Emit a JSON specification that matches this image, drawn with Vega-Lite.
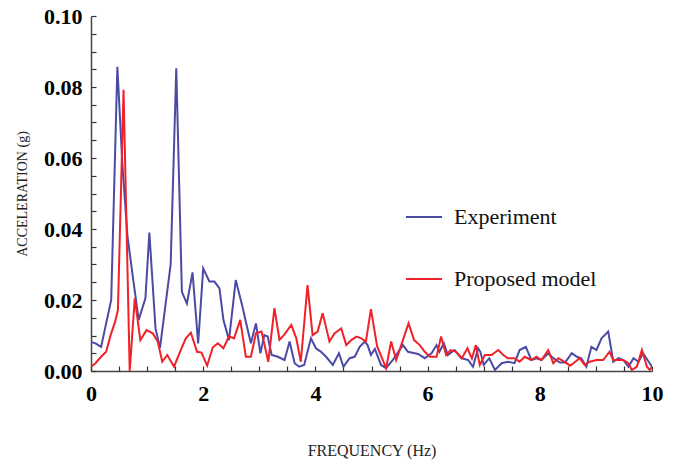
{
  "$schema": "https://vega.github.io/schema/vega-lite/v6.json",
  "width": 561,
  "height": 355,
  "autosize": "none",
  "padding": {"left": 91, "top": 16, "right": 26, "bottom": 90},
  "background": "white",
  "config": {
    "view": {"stroke": null},
    "font": "Liberation Serif"
  },
  "data": {
    "values": [
      {"f": 0.00, "a": 0.0082, "s": "Experiment"},
      {"f": 0.08, "a": 0.0078, "s": "Experiment"},
      {"f": 0.18, "a": 0.0068, "s": "Experiment"},
      {"f": 0.36, "a": 0.0200, "s": "Experiment"},
      {"f": 0.47, "a": 0.0857, "s": "Experiment"},
      {"f": 0.56, "a": 0.0580, "s": "Experiment"},
      {"f": 0.65, "a": 0.0380, "s": "Experiment"},
      {"f": 0.75, "a": 0.0260, "s": "Experiment"},
      {"f": 0.85, "a": 0.0144, "s": "Experiment"},
      {"f": 0.97, "a": 0.0205, "s": "Experiment"},
      {"f": 1.04, "a": 0.0390, "s": "Experiment"},
      {"f": 1.15, "a": 0.0120, "s": "Experiment"},
      {"f": 1.23, "a": 0.0065, "s": "Experiment"},
      {"f": 1.42, "a": 0.0300, "s": "Experiment"},
      {"f": 1.52, "a": 0.0853, "s": "Experiment"},
      {"f": 1.62, "a": 0.0223, "s": "Experiment"},
      {"f": 1.71, "a": 0.0190, "s": "Experiment"},
      {"f": 1.81, "a": 0.0278, "s": "Experiment"},
      {"f": 1.91, "a": 0.0078, "s": "Experiment"},
      {"f": 2.00, "a": 0.0289, "s": "Experiment"},
      {"f": 2.11, "a": 0.0252, "s": "Experiment"},
      {"f": 2.20, "a": 0.0252, "s": "Experiment"},
      {"f": 2.29, "a": 0.0233, "s": "Experiment"},
      {"f": 2.36, "a": 0.0144, "s": "Experiment"},
      {"f": 2.46, "a": 0.0087, "s": "Experiment"},
      {"f": 2.58, "a": 0.0256, "s": "Experiment"},
      {"f": 2.70, "a": 0.0181, "s": "Experiment"},
      {"f": 2.76, "a": 0.0139, "s": "Experiment"},
      {"f": 2.85, "a": 0.0078, "s": "Experiment"},
      {"f": 2.94, "a": 0.0134, "s": "Experiment"},
      {"f": 3.02, "a": 0.0050, "s": "Experiment"},
      {"f": 3.09, "a": 0.0101, "s": "Experiment"},
      {"f": 3.15, "a": 0.0097, "s": "Experiment"},
      {"f": 3.22, "a": 0.0045, "s": "Experiment"},
      {"f": 3.33, "a": 0.0040, "s": "Experiment"},
      {"f": 3.45, "a": 0.0031, "s": "Experiment"},
      {"f": 3.54, "a": 0.0083, "s": "Experiment"},
      {"f": 3.63, "a": 0.0022, "s": "Experiment"},
      {"f": 3.71, "a": 0.0012, "s": "Experiment"},
      {"f": 3.80, "a": 0.0017, "s": "Experiment"},
      {"f": 3.92, "a": 0.0092, "s": "Experiment"},
      {"f": 4.01, "a": 0.0064, "s": "Experiment"},
      {"f": 4.10, "a": 0.0054, "s": "Experiment"},
      {"f": 4.19, "a": 0.0040, "s": "Experiment"},
      {"f": 4.31, "a": 0.0017, "s": "Experiment"},
      {"f": 4.42, "a": 0.0050, "s": "Experiment"},
      {"f": 4.50, "a": 0.0012, "s": "Experiment"},
      {"f": 4.61, "a": 0.0036, "s": "Experiment"},
      {"f": 4.70, "a": 0.0040, "s": "Experiment"},
      {"f": 4.79, "a": 0.0068, "s": "Experiment"},
      {"f": 4.88, "a": 0.0083, "s": "Experiment"},
      {"f": 4.93, "a": 0.0073, "s": "Experiment"},
      {"f": 4.99, "a": 0.0045, "s": "Experiment"},
      {"f": 5.06, "a": 0.0062, "s": "Experiment"},
      {"f": 5.17, "a": 0.0017, "s": "Experiment"},
      {"f": 5.26, "a": 0.0008, "s": "Experiment"},
      {"f": 5.38, "a": 0.0031, "s": "Experiment"},
      {"f": 5.56, "a": 0.0073, "s": "Experiment"},
      {"f": 5.65, "a": 0.0054, "s": "Experiment"},
      {"f": 5.83, "a": 0.0048, "s": "Experiment"},
      {"f": 5.95, "a": 0.0036, "s": "Experiment"},
      {"f": 6.07, "a": 0.0050, "s": "Experiment"},
      {"f": 6.16, "a": 0.0073, "s": "Experiment"},
      {"f": 6.21, "a": 0.0054, "s": "Experiment"},
      {"f": 6.29, "a": 0.0078, "s": "Experiment"},
      {"f": 6.36, "a": 0.0045, "s": "Experiment"},
      {"f": 6.48, "a": 0.0059, "s": "Experiment"},
      {"f": 6.60, "a": 0.0036, "s": "Experiment"},
      {"f": 6.72, "a": 0.0031, "s": "Experiment"},
      {"f": 6.81, "a": 0.0012, "s": "Experiment"},
      {"f": 6.90, "a": 0.0064, "s": "Experiment"},
      {"f": 6.94, "a": 0.0054, "s": "Experiment"},
      {"f": 7.00, "a": 0.0017, "s": "Experiment"},
      {"f": 7.10, "a": 0.0036, "s": "Experiment"},
      {"f": 7.20, "a": 0.0003, "s": "Experiment"},
      {"f": 7.32, "a": 0.0022, "s": "Experiment"},
      {"f": 7.43, "a": 0.0026, "s": "Experiment"},
      {"f": 7.55, "a": 0.0022, "s": "Experiment"},
      {"f": 7.64, "a": 0.0059, "s": "Experiment"},
      {"f": 7.75, "a": 0.0068, "s": "Experiment"},
      {"f": 7.85, "a": 0.0031, "s": "Experiment"},
      {"f": 7.94, "a": 0.0036, "s": "Experiment"},
      {"f": 8.03, "a": 0.0031, "s": "Experiment"},
      {"f": 8.15, "a": 0.0050, "s": "Experiment"},
      {"f": 8.24, "a": 0.0036, "s": "Experiment"},
      {"f": 8.36, "a": 0.0024, "s": "Experiment"},
      {"f": 8.45, "a": 0.0024, "s": "Experiment"},
      {"f": 8.57, "a": 0.0050, "s": "Experiment"},
      {"f": 8.66, "a": 0.0040, "s": "Experiment"},
      {"f": 8.74, "a": 0.0036, "s": "Experiment"},
      {"f": 8.83, "a": 0.0012, "s": "Experiment"},
      {"f": 8.92, "a": 0.0068, "s": "Experiment"},
      {"f": 9.01, "a": 0.0059, "s": "Experiment"},
      {"f": 9.10, "a": 0.0092, "s": "Experiment"},
      {"f": 9.22, "a": 0.0111, "s": "Experiment"},
      {"f": 9.31, "a": 0.0026, "s": "Experiment"},
      {"f": 9.40, "a": 0.0036, "s": "Experiment"},
      {"f": 9.49, "a": 0.0031, "s": "Experiment"},
      {"f": 9.58, "a": 0.0012, "s": "Experiment"},
      {"f": 9.67, "a": 0.0036, "s": "Experiment"},
      {"f": 9.76, "a": 0.0026, "s": "Experiment"},
      {"f": 9.84, "a": 0.0050, "s": "Experiment"},
      {"f": 9.92, "a": 0.0031, "s": "Experiment"},
      {"f": 10.0, "a": 0.0012, "s": "Experiment"},

      {"f": 0.00, "a": 0.0012, "s": "Proposed model"},
      {"f": 0.08, "a": 0.0022, "s": "Proposed model"},
      {"f": 0.18, "a": 0.0040, "s": "Proposed model"},
      {"f": 0.27, "a": 0.0054, "s": "Proposed model"},
      {"f": 0.35, "a": 0.0101, "s": "Proposed model"},
      {"f": 0.43, "a": 0.0139, "s": "Proposed model"},
      {"f": 0.48, "a": 0.0172, "s": "Proposed model"},
      {"f": 0.58, "a": 0.0792, "s": "Proposed model"},
      {"f": 0.69, "a": 0.0000, "s": "Proposed model"},
      {"f": 0.78, "a": 0.0205, "s": "Proposed model"},
      {"f": 0.88, "a": 0.0087, "s": "Proposed model"},
      {"f": 0.99, "a": 0.0115, "s": "Proposed model"},
      {"f": 1.10, "a": 0.0106, "s": "Proposed model"},
      {"f": 1.19, "a": 0.0083, "s": "Proposed model"},
      {"f": 1.27, "a": 0.0026, "s": "Proposed model"},
      {"f": 1.36, "a": 0.0045, "s": "Proposed model"},
      {"f": 1.48, "a": 0.0012, "s": "Proposed model"},
      {"f": 1.60, "a": 0.0059, "s": "Proposed model"},
      {"f": 1.69, "a": 0.0092, "s": "Proposed model"},
      {"f": 1.78, "a": 0.0108, "s": "Proposed model"},
      {"f": 1.89, "a": 0.0054, "s": "Proposed model"},
      {"f": 1.97, "a": 0.0052, "s": "Proposed model"},
      {"f": 2.07, "a": 0.0015, "s": "Proposed model"},
      {"f": 2.17, "a": 0.0066, "s": "Proposed model"},
      {"f": 2.26, "a": 0.0078, "s": "Proposed model"},
      {"f": 2.36, "a": 0.0064, "s": "Proposed model"},
      {"f": 2.46, "a": 0.0098, "s": "Proposed model"},
      {"f": 2.55, "a": 0.0092, "s": "Proposed model"},
      {"f": 2.66, "a": 0.0144, "s": "Proposed model"},
      {"f": 2.76, "a": 0.0040, "s": "Proposed model"},
      {"f": 2.85, "a": 0.0040, "s": "Proposed model"},
      {"f": 2.94, "a": 0.0106, "s": "Proposed model"},
      {"f": 3.04, "a": 0.0111, "s": "Proposed model"},
      {"f": 3.16, "a": 0.0026, "s": "Proposed model"},
      {"f": 3.27, "a": 0.0177, "s": "Proposed model"},
      {"f": 3.36, "a": 0.0088, "s": "Proposed model"},
      {"f": 3.45, "a": 0.0103, "s": "Proposed model"},
      {"f": 3.57, "a": 0.0130, "s": "Proposed model"},
      {"f": 3.66, "a": 0.0092, "s": "Proposed model"},
      {"f": 3.74, "a": 0.0026, "s": "Proposed model"},
      {"f": 3.86, "a": 0.0242, "s": "Proposed model"},
      {"f": 3.95, "a": 0.0101, "s": "Proposed model"},
      {"f": 4.04, "a": 0.0111, "s": "Proposed model"},
      {"f": 4.13, "a": 0.0163, "s": "Proposed model"},
      {"f": 4.25, "a": 0.0083, "s": "Proposed model"},
      {"f": 4.34, "a": 0.0106, "s": "Proposed model"},
      {"f": 4.46, "a": 0.0120, "s": "Proposed model"},
      {"f": 4.55, "a": 0.0073, "s": "Proposed model"},
      {"f": 4.64, "a": 0.0087, "s": "Proposed model"},
      {"f": 4.73, "a": 0.0097, "s": "Proposed model"},
      {"f": 4.82, "a": 0.0092, "s": "Proposed model"},
      {"f": 4.90, "a": 0.0083, "s": "Proposed model"},
      {"f": 4.99, "a": 0.0174, "s": "Proposed model"},
      {"f": 5.10, "a": 0.0070, "s": "Proposed model"},
      {"f": 5.26, "a": 0.0008, "s": "Proposed model"},
      {"f": 5.35, "a": 0.0083, "s": "Proposed model"},
      {"f": 5.44, "a": 0.0031, "s": "Proposed model"},
      {"f": 5.54, "a": 0.0078, "s": "Proposed model"},
      {"f": 5.66, "a": 0.0134, "s": "Proposed model"},
      {"f": 5.76, "a": 0.0087, "s": "Proposed model"},
      {"f": 5.86, "a": 0.0073, "s": "Proposed model"},
      {"f": 5.95, "a": 0.0054, "s": "Proposed model"},
      {"f": 6.04, "a": 0.0040, "s": "Proposed model"},
      {"f": 6.16, "a": 0.0040, "s": "Proposed model"},
      {"f": 6.24, "a": 0.0097, "s": "Proposed model"},
      {"f": 6.33, "a": 0.0045, "s": "Proposed model"},
      {"f": 6.41, "a": 0.0059, "s": "Proposed model"},
      {"f": 6.51, "a": 0.0054, "s": "Proposed model"},
      {"f": 6.61, "a": 0.0036, "s": "Proposed model"},
      {"f": 6.71, "a": 0.0064, "s": "Proposed model"},
      {"f": 6.79, "a": 0.0035, "s": "Proposed model"},
      {"f": 6.86, "a": 0.0073, "s": "Proposed model"},
      {"f": 6.93, "a": 0.0017, "s": "Proposed model"},
      {"f": 7.02, "a": 0.0045, "s": "Proposed model"},
      {"f": 7.14, "a": 0.0045, "s": "Proposed model"},
      {"f": 7.26, "a": 0.0059, "s": "Proposed model"},
      {"f": 7.35, "a": 0.0045, "s": "Proposed model"},
      {"f": 7.43, "a": 0.0036, "s": "Proposed model"},
      {"f": 7.55, "a": 0.0036, "s": "Proposed model"},
      {"f": 7.64, "a": 0.0026, "s": "Proposed model"},
      {"f": 7.73, "a": 0.0040, "s": "Proposed model"},
      {"f": 7.85, "a": 0.0031, "s": "Proposed model"},
      {"f": 7.94, "a": 0.0040, "s": "Proposed model"},
      {"f": 8.03, "a": 0.0031, "s": "Proposed model"},
      {"f": 8.15, "a": 0.0059, "s": "Proposed model"},
      {"f": 8.24, "a": 0.0022, "s": "Proposed model"},
      {"f": 8.33, "a": 0.0036, "s": "Proposed model"},
      {"f": 8.45, "a": 0.0025, "s": "Proposed model"},
      {"f": 8.54, "a": 0.0015, "s": "Proposed model"},
      {"f": 8.60, "a": 0.0022, "s": "Proposed model"},
      {"f": 8.71, "a": 0.0036, "s": "Proposed model"},
      {"f": 8.80, "a": 0.0017, "s": "Proposed model"},
      {"f": 8.89, "a": 0.0026, "s": "Proposed model"},
      {"f": 9.01, "a": 0.0031, "s": "Proposed model"},
      {"f": 9.13, "a": 0.0031, "s": "Proposed model"},
      {"f": 9.24, "a": 0.0054, "s": "Proposed model"},
      {"f": 9.31, "a": 0.0031, "s": "Proposed model"},
      {"f": 9.40, "a": 0.0031, "s": "Proposed model"},
      {"f": 9.49, "a": 0.0031, "s": "Proposed model"},
      {"f": 9.58, "a": 0.0022, "s": "Proposed model"},
      {"f": 9.64, "a": 0.0003, "s": "Proposed model"},
      {"f": 9.73, "a": 0.0012, "s": "Proposed model"},
      {"f": 9.82, "a": 0.0059, "s": "Proposed model"},
      {"f": 9.91, "a": 0.0012, "s": "Proposed model"},
      {"f": 9.96, "a": 0.0003, "s": "Proposed model"},
      {"f": 10.0, "a": 0.0012, "s": "Proposed model"}
    ]
  },
  "mark": {"type": "line", "strokeWidth": 2, "clip": true},
  "encoding": {
    "x": {
      "field": "f",
      "type": "quantitative",
      "scale": {"domain": [0, 10], "nice": false, "zero": false},
      "axis": {
        "title": "FREQUENCY (Hz)",
        "titleFont": "Liberation Serif",
        "titleFontWeight": "normal",
        "titleFontSize": 16,
        "titleColor": "#222",
        "titlePadding": 38,
        "values": [0,0.5,1,1.5,2,2.5,3,3.5,4,4.5,5,5.5,6,6.5,7,7.5,8,8.5,9,9.5,10],
        "labelExpr": "datum.value % 2 === 0 ? datum.value : ''",
        "labelFont": "Liberation Serif",
        "labelFontWeight": "bold",
        "labelFontSize": 22,
        "labelColor": "#000",
        "labelPadding": 17,
        "labelFlush": false,
        "labelOverlap": false,
        "grid": false,
        "tickSize": -5,
        "tickColor": "#333",
        "tickWidth": 1.2,
        "domainColor": "#444",
        "domainWidth": 1.5
      }
    },
    "y": {
      "field": "a",
      "type": "quantitative",
      "scale": {"domain": [0, 0.1], "nice": false},
      "axis": {
        "title": "ACCELERATION (g)",
        "titleFont": "Liberation Serif",
        "titleFontWeight": "normal",
        "titleFontSize": 14,
        "titleColor": "#222",
        "titlePadding": 14,
        "values": [0,0.005,0.01,0.015,0.02,0.025,0.03,0.035,0.04,0.045,0.05,0.055,0.06,0.065,0.07,0.075,0.08,0.085,0.09,0.095,0.1],
        "labelExpr": "abs(datum.value*50 - round(datum.value*50)) < 1e-6 ? format(datum.value, '.2f') : ''",
        "labelFont": "Liberation Serif",
        "labelFontWeight": "bold",
        "labelFontSize": 22,
        "labelColor": "#000",
        "labelPadding": 14,
        "labelFlush": false,
        "labelOverlap": false,
        "grid": false,
        "tickSize": -5,
        "tickColor": "#333",
        "tickWidth": 1.2,
        "domainColor": "#444",
        "domainWidth": 1.5
      }
    },
    "color": {
      "field": "s",
      "type": "nominal",
      "scale": {"domain": ["Experiment", "Proposed model"], "range": ["#4b4ba6", "#f02128"]},
      "legend": {
        "title": null,
        "orient": "none",
        "legendX": 314,
        "legendY": 182,
        "symbolType": "stroke",
        "symbolSize": 1296,
        "symbolStrokeWidth": 2,
        "labelFont": "Liberation Serif",
        "labelFontSize": 22,
        "labelColor": "#111",
        "labelOffset": 11,
        "rowPadding": 32,
        "labelLimit": 300
      }
    }
  }
}
